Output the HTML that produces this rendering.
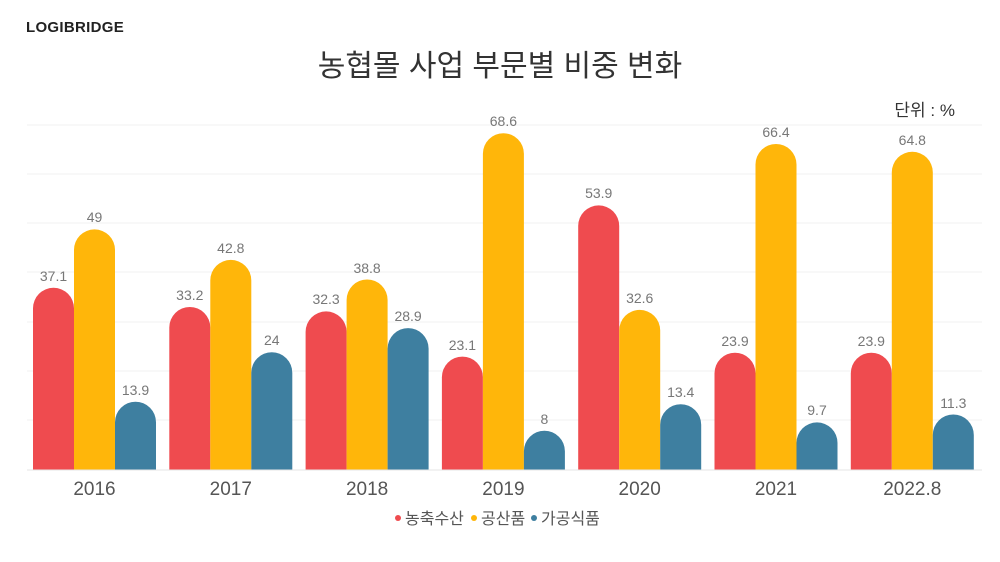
<!DOCTYPE html>
<html><head><meta charset="utf-8">
<style>
html,body{margin:0;padding:0;background:#fff;}
svg{display:block;font-family:"Liberation Sans","Noto Sans CJK KR",sans-serif;}
</style></head>
<body>
<svg width="1000" height="562" viewBox="0 0 1000 562" xmlns="http://www.w3.org/2000/svg">
<rect width="1000" height="562" fill="#fff"/>
<text x="26" y="32" font-size="15" font-weight="bold" fill="#222" letter-spacing="0.3">LOGIBRIDGE</text>
<text x="500" y="76" font-size="30" fill="#333" text-anchor="middle">농협몰 사업 부문별 비중 변화</text>
<text x="955" y="116" font-size="17" fill="#333" text-anchor="end">단위 : %</text>
<g stroke="#f0f0f0" stroke-width="1">
<line x1="27" x2="982" y1="125" y2="125"/>
<line x1="27" x2="982" y1="174" y2="174"/>
<line x1="27" x2="982" y1="223" y2="223"/>
<line x1="27" x2="982" y1="272" y2="272"/>
<line x1="27" x2="982" y1="322" y2="322"/>
<line x1="27" x2="982" y1="371" y2="371"/>
<line x1="27" x2="982" y1="420" y2="420"/>
</g>
<g fill="#ef4b4f">
<path d="M33 470V308.3a20.5 20.5 0 0 1 41 0V470Z"/>
<path d="M169.3 470V327.5a20.5 20.5 0 0 1 41 0V470Z"/>
<path d="M305.6 470V331.9a20.5 20.5 0 0 1 41 0V470Z"/>
<path d="M441.9 470V377.1a20.5 20.5 0 0 1 41 0V470Z"/>
<path d="M578.2 470V225.9a20.5 20.5 0 0 1 41 0V470Z"/>
<path d="M714.5 470V373.2a20.5 20.5 0 0 1 41 0V470Z"/>
<path d="M850.8 470V373.2a20.5 20.5 0 0 1 41 0V470Z"/>
</g>
<g fill="#ffb60a">
<path d="M74 470V249.9a20.5 20.5 0 0 1 41 0V470Z"/>
<path d="M210.3 470V280.4a20.5 20.5 0 0 1 41 0V470Z"/>
<path d="M346.6 470V300a20.5 20.5 0 0 1 41 0V470Z"/>
<path d="M482.9 470V153.7a20.5 20.5 0 0 1 41 0V470Z"/>
<path d="M619.2 470V330.4a20.5 20.5 0 0 1 41 0V470Z"/>
<path d="M755.5 470V164.5a20.5 20.5 0 0 1 41 0V470Z"/>
<path d="M891.8 470V172.3a20.5 20.5 0 0 1 41 0V470Z"/>
</g>
<g fill="#3e7fa0">
<path d="M115 470V422.2a20.5 20.5 0 0 1 41 0V470Z"/>
<path d="M251.3 470V372.7a20.5 20.5 0 0 1 41 0V470Z"/>
<path d="M387.6 470V348.6a20.5 20.5 0 0 1 41 0V470Z"/>
<path d="M523.9 470V451.2a20.5 20.5 0 0 1 41 0V470Z"/>
<path d="M660.2 470V424.7a20.5 20.5 0 0 1 41 0V470Z"/>
<path d="M796.5 470V442.9a20.5 20.5 0 0 1 41 0V470Z"/>
<path d="M932.8 470V435a20.5 20.5 0 0 1 41 0V470Z"/>
</g>
<g font-size="14" fill="#777" text-anchor="middle">
<text x="53.5" y="281">37.1</text><text x="94.5" y="222">49</text><text x="135.5" y="395">13.9</text>
<text x="189.8" y="300">33.2</text><text x="230.8" y="253">42.8</text><text x="271.8" y="345">24</text>
<text x="326.1" y="304">32.3</text><text x="367.1" y="273">38.8</text><text x="408.1" y="321">28.9</text>
<text x="462.4" y="350">23.1</text><text x="503.4" y="126">68.6</text><text x="544.4" y="424">8</text>
<text x="598.7" y="198">53.9</text><text x="639.7" y="303">32.6</text><text x="680.7" y="397">13.4</text>
<text x="735" y="346">23.9</text><text x="776" y="137">66.4</text><text x="817" y="415">9.7</text>
<text x="871.3" y="346">23.9</text><text x="912.3" y="145">64.8</text><text x="953.3" y="408">11.3</text>
</g>
<line x1="27" x2="982" y1="470" y2="470" stroke="#e6e6e6" stroke-width="1"/>
<g font-size="19" fill="#555" text-anchor="middle">
<text x="94.5" y="495">2016</text>
<text x="230.8" y="495">2017</text>
<text x="367.1" y="495">2018</text>
<text x="503.4" y="495">2019</text>
<text x="639.7" y="495">2020</text>
<text x="776" y="495">2021</text>
<text x="912.3" y="495">2022.8</text>
</g>
<g font-size="16" fill="#555">
<circle cx="398" cy="518" r="3" fill="#ef4b4f"/><text x="405" y="524">농축수산</text>
<circle cx="474" cy="518" r="3" fill="#ffb60a"/><text x="481" y="524">공산품</text>
<circle cx="534" cy="518" r="3" fill="#3e7fa0"/><text x="541" y="524">가공식품</text>
</g>
</svg>
</body></html>
